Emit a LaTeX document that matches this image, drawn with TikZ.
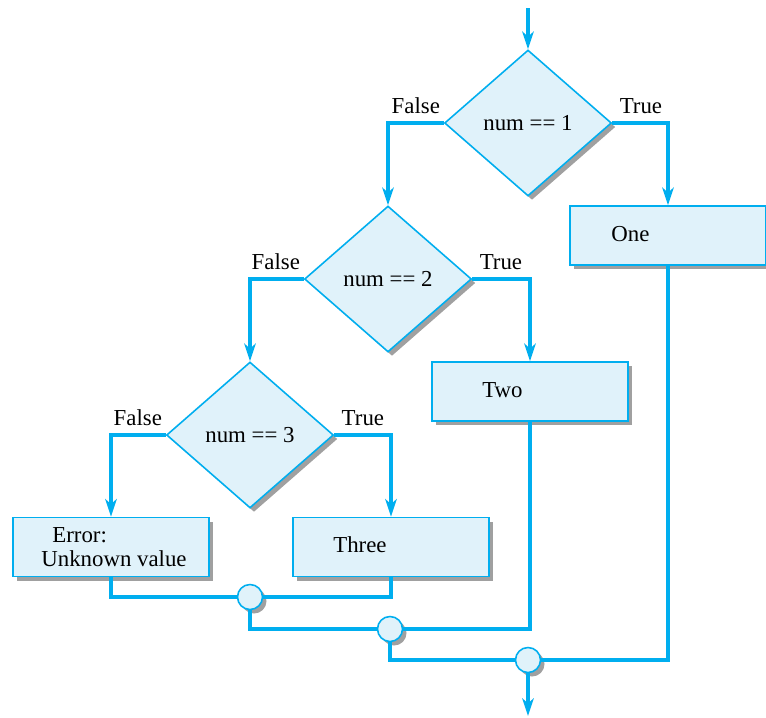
\documentclass[tikz,border=0pt]{standalone}
\usepackage{fontspec}
\setmainfont{Liberation Serif}
\usetikzlibrary{shapes.geometric,shadows,arrows.meta}
\definecolor{flowblue}{RGB}{0,174,239}
\definecolor{flowfill}{RGB}{224,242,250}
\definecolor{shadegray}{RGB}{160,160,160}
\tikzset{
  shapebase/.style={draw=flowblue, line width=0.9pt, fill=flowfill,
    drop shadow={shadow xshift=0.08cm, shadow yshift=-0.08cm, fill=shadegray, opacity=1}},
  test/.style={shapebase, diamond, minimum width=3.34cm, minimum height=2.92cm, inner sep=0pt},
  stepbox/.style={shapebase, rectangle, minimum width=3.92cm, minimum height=1.18cm, inner sep=0pt},
  joint/.style={shapebase, circle, minimum size=0.5cm, inner sep=0pt},
  flow/.style={draw=flowblue, line width=1.9pt},
  arr/.style={flow, -{Stealth[length=10pt, width=6.5pt, inset=2.8pt]}},
  txt/.style={anchor=base west, inner sep=0pt},
  lblF/.style={anchor=south east, inner sep=0pt, xshift=-1.2pt, yshift=4.2pt},
  lblT/.style={anchor=south west, inner sep=0pt, xshift=3.3pt, yshift=4.2pt}
}
\begin{document}
\begin{tikzpicture}[x=0.02cm, y=-0.02cm, font=\fontsize{13}{15}\selectfont]
  \useasboundingbox (0,0) rectangle (766,717);
  % decisions
  \node[test] (test1) at (528,123) {num == 1};
  \node[test] (test2) at (388,279) {num == 2};
  \node[test] (test3) at (250,435) {num == 3};
  % actions
  \node[stepbox] (one) at (668,235.5) {};
  \node[stepbox] (two) at (530,391.5) {};
  \node[stepbox] (three) at (391,547) {};
  \node[stepbox] (err) at (111,547) {};
  \node[txt] (onetxt) at (611,241) {One};
  \node[txt] (twotxt) at (482,397) {Two};
  \node[txt] (threetxt) at (333,552) {Three};
  \node[txt] (errtxt) at (52,542) {Error:};
  \node[txt] (errtxt2) at (41,566) {Unknown value};
  % joins
  \node[joint] (join1) at (250,597) {};
  \node[joint] (join2) at (390,629) {};
  \node[joint] (join3) at (528,660) {};
  \coordinate (start) at (528,8);
  \coordinate (stop) at (528,716);
  % connectors
  \draw[arr] (start) -- (test1.north);
  \draw[arr] (test1.west) node[lblF] {False} -| (test2.north);
  \draw[arr] (test1.east) node[lblT] {True} -| (one.north);
  \draw[arr] (test2.west) node[lblF] {False} -| (test3.north);
  \draw[arr] (test2.east) node[lblT] {True} -| (two.north);
  \draw[arr] (test3.west) node[lblF] {False} -| (err.north);
  \draw[arr] (test3.east) node[lblT] {True} -| (three.north);
  \draw[flow] (err.south) |- (join1.west);
  \draw[flow] (three.south) |- (join1.east);
  \draw[flow] (join1.south) |- (join2.west);
  \draw[flow] (two.south) |- (join2.east);
  \draw[flow] (join2.south) |- (join3.west);
  \draw[flow] (one.south) |- (join3.east);
  \draw[arr] (join3.south) -- (stop);
\end{tikzpicture}
\end{document}
